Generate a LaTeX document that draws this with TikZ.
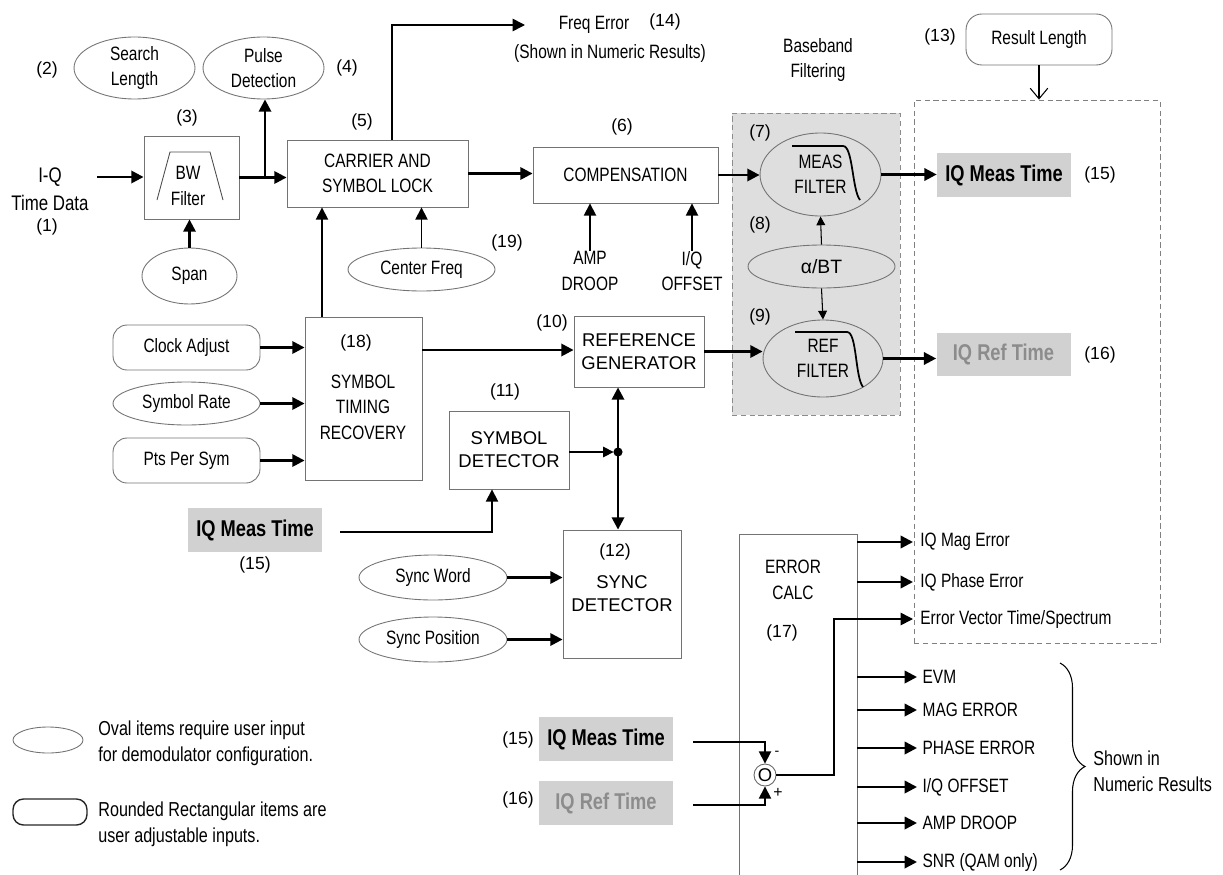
\documentclass[tikz,border=0pt]{standalone}
\usepackage{fontspec}
\setmainfont{Liberation Sans}
\newfontfamily\cnd{Liberation Sans}[FakeStretch=0.8]
\usetikzlibrary{arrows.meta,shapes.geometric,decorations.pathreplacing}

\tikzset{
  blk/.style={draw=black!55,line width=.5pt,rectangle},
  oval/.style={draw=black!55,line width=.5pt,ellipse},
  rbox/.style={draw=black!55,line width=.5pt,rounded corners=8pt},
  cn/.style={font=\cnd\fontsize{11}{14.5}\selectfont,align=center},
  ar/.style={font=\fontsize{10.5}{13}\selectfont,align=center},
  num/.style={font=\fontsize{10}{12}\selectfont},
  iqtag/.style={fill=black!18,font=\cnd\bfseries\fontsize{13}{15}\selectfont,minimum width=2.68cm,minimum height=0.88cm},
  fat/.style={line width=1.4pt,-{Triangle[length=7pt,width=7pt]}},
  med/.style={line width=.9pt,-{Triangle[length=7pt,width=7pt]}},
  slim/.style={line width=.6pt,-{Triangle[length=5pt,width=5pt]}}
}

\begin{document}
\begin{tikzpicture}[x=0.02cm,y=-0.02cm,inner sep=0pt]
\useasboundingbox (0,0) rectangle (1223,875);
\node[draw=black!45,dash pattern=on 3pt off 2pt,line width=.5pt,fill=black!13,minimum width=3.36cm,minimum height=6.04cm] (bbf) at (816,264) {};
\node[draw=black!50,dash pattern=on 3pt off 2pt,line width=.5pt,minimum width=4.92cm,minimum height=10.86cm] (disp) at (1037,371.5) {};
\node[cn] (bbtxt) at (818,60) {Baseband\\Filtering};

\node[cn,font=\cnd\fontsize{12}{16}\selectfont] (iqin) at (50,189) {I-Q\\Time Data};
\node[num] (n1) at (47,227) {(1)};
\node[blk,minimum width=1.90cm,minimum height=1.66cm] (bw) at (191.5,177.5) {};
\node[cn] (bwtxt) at (188,186) {BW\\Filter};
\draw[black!70,line width=.5pt] (157,200)--(170,152)--(210,152)--(223,200);
\node[num] (n3) at (187,118) {(3)};
\node[oval,cn,minimum width=2.42cm,minimum height=1.24cm] (search) at (134.5,68) {Search\\Length};
\node[num] (n2) at (47,70) {(2)};
\node[oval,cn,minimum width=2.42cm,minimum height=1.24cm] (pulse) at (263.5,68) {Pulse\\Detection};
\node[num] (n4) at (347,68) {(4)};
\node[oval,cn,minimum width=1.90cm,minimum height=1.12cm] (span) at (189.5,276) {Span};

\node[blk,cn,minimum width=3.62cm,minimum height=1.34cm] (carrier) at (377.5,173.5) {CARRIER AND\\SYMBOL LOCK};
\node[num] (n5) at (362,122) {(5)};
\node[cn] (freqerr) at (594,25) {Freq Error};
\node[num] (n14) at (665,22) {(14)};
\node[cn] (shown1) at (610,53) {(Shown in Numeric Results)};
\node[oval,cn,minimum width=2.94cm,minimum height=0.86cm] (cfreq) at (421.5,269.5) {Center Freq};
\node[num] (n19) at (507,243) {(19)};

\node[blk,cn,minimum width=3.70cm,minimum height=1.12cm] (comp) at (625.5,175) {COMPENSATION};
\node[num] (n6) at (622,127) {(6)};
\node[cn] (amp) at (590,271) {AMP\\DROOP};
\node[cn] (iqoff) at (692,271) {I/Q\\OFFSET};

\node[oval,cn,minimum width=2.42cm,minimum height=1.66cm] (meas) at (820.5,174.5) {MEAS\\FILTER};
\draw[line width=1pt] (792,146)--(843,146) .. controls (853,146) and (852,190) .. (860,200);
\node[num] (n7) at (760,133) {(7)};
\node[oval,minimum width=2.94cm,minimum height=0.86cm,font=\fontsize{11}{13}\selectfont] (alpha) at (821.5,266.5) {α/BT};
\node[num] (n8) at (760,225) {(8)};
\node[oval,cn,minimum width=2.40cm,minimum height=1.54cm] (ref) at (823,358.5) {REF\\FILTER};
\draw[line width=1pt] (795,332)--(847,332) .. controls (857,332) and (855,377) .. (863,387);
\node[num] (n9) at (760,317) {(9)};

\node[rbox,cn,rounded corners=9pt,minimum width=2.92cm,minimum height=1.02cm] (reslen) at (1039,39.5) {Result Length};
\node[num] (n13) at (940,37) {(13)};
\node[iqtag] (iqm1) at (1004,175) {IQ Meas Time};
\node[num] (n15a) at (1100,175) {(15)};
\node[iqtag,text=black!45] (iqr1) at (1003.5,354.5) {IQ Ref Time};
\node[num] (n16a) at (1100,355) {(16)};

\node[rbox,cn,minimum width=2.94cm,minimum height=0.90cm] (clock) at (186.5,347.5) {Clock Adjust};
\node[oval,cn,minimum width=2.94cm,minimum height=0.86cm] (symrate) at (186.5,403.5) {Symbol Rate};
\node[rbox,cn,minimum width=2.94cm,minimum height=0.90cm] (pts) at (186.5,460.5) {Pts Per Sym};
\node[blk,minimum width=2.34cm,minimum height=3.26cm] (str) at (363.5,398.5) {};
\node[num] (n18) at (356,343) {(18)};
\node[cn] (strtxt) at (363,407) {SYMBOL\\TIMING\\RECOVERY};

\node[blk,ar,minimum width=2.60cm,minimum height=1.42cm] (refgen) at (639,351.5) {REFERENCE\\GENERATOR};
\node[num] (n10) at (552,323) {(10)};
\node[blk,ar,minimum width=2.40cm,minimum height=1.56cm] (symdet) at (509,450) {SYMBOL\\DETECTOR};
\node[num] (n11) at (505,392) {(11)};
\node[iqtag] (iqm2) at (255,530) {IQ Meas Time};
\node[num] (n15b) at (255,565) {(15)};
\node[blk,ar,minimum width=2.36cm,minimum height=2.56cm] (syncdet) at (622,594) {SYNC\\DETECTOR};
\node[num] (n12) at (615,552) {(12)};
\node[oval,cn,minimum width=2.96cm,minimum height=0.90cm] (syncword) at (433,577.5) {Sync Word};
\node[oval,cn,minimum width=2.96cm,minimum height=0.90cm] (syncpos) at (433,639.5) {Sync Position};

\node[minimum width=2.34cm,minimum height=6.80cm] (errcalc) at (798.5,705) {};
\draw[draw=black!55,line width=.5pt] (errcalc.south west)|-(errcalc.north east)--(errcalc.south east);
\node[cn] (errtxt) at (793,580) {ERROR\\CALC};
\node[num] (n17) at (782,633) {(17)};
\node[num] (n15c) at (518,740) {(15)};
\node[iqtag] (iqm3) at (606,739) {IQ Meas Time};
\node[num] (n16b) at (518,800) {(16)};
\node[iqtag,text=black!45] (iqr3) at (606,803) {IQ Ref Time};
\node[circle,draw=black!60,line width=.5pt,minimum size=0.44cm,ar] (sum) at (765,775) {O};
\node[font=\fontsize{8}{9}\selectfont] (minus) at (777,753) {-};
\node[font=\fontsize{9}{10}\selectfont] (plus) at (778,793) {+};

\node[cn,anchor=west,inner xsep=4pt] (omag) at (913,542) {IQ Mag Error};
\node[cn,anchor=west,inner xsep=4pt] (ophase) at (913,582) {IQ Phase Error};
\node[cn,anchor=west,inner xsep=4pt] (oev) at (913,619) {Error Vector Time/Spectrum};
\node[cn,anchor=west,inner xsep=3pt] (oevm) at (917,677) {EVM};
\node[cn,anchor=west,inner xsep=3pt] (omagerr) at (917,710) {MAG ERROR};
\node[cn,anchor=west,inner xsep=3pt] (ophaseerr) at (917,748) {PHASE ERROR};
\node[cn,anchor=west,inner xsep=3pt] (ooff) at (917,787) {I/Q OFFSET};
\node[cn,anchor=west,inner xsep=3pt] (odroop) at (917,823) {AMP DROOP};
\node[cn,anchor=west,inner xsep=3pt] (osnr) at (917,862) {SNR (QAM only)};
\coordinate (brtop) at (1060,663);
\coordinate (brbot) at (1060,870);
\draw[line width=.6pt,decorate,decoration={brace,amplitude=0.5cm,aspect=0.5}] (brtop)--(brbot);
\node[cn,anchor=west,align=left,font=\cnd\fontsize{11.5}{15}\selectfont] (shown2) at (1093,771) {Shown in\\Numeric Results};

\node[oval,minimum width=1.40cm,minimum height=0.52cm] (legov) at (48,740) {};
\node[rbox,draw=black!85,line width=.8pt,rounded corners=6pt,minimum width=1.48cm,minimum height=0.52cm] (legrr) at (50,812) {};
\node[cn,anchor=west,align=left,font=\cnd\fontsize{11.5}{15}\selectfont] (legovtxt) at (98,743) {Oval items require user input\\for demodulator configuration.};
\node[cn,anchor=west,align=left,font=\cnd\fontsize{11.5}{15}\selectfont] (legrrtxt) at (98,824.5) {Rounded Rectangular items are\\user adjustable inputs.};

\coordinate (iqstart) at (97,177);
\draw[fat] (iqstart)--(iqstart -| bw.west);
\draw[fat] (bw.east)--(bw.east -| carrier.west);
\coordinate (pbr) at (265,177.5);
\draw[fat] (pbr)--(pbr |- pulse.south);
\draw[fat] (span.north)--(span.north |- bw.south);
\draw[fat] (carrier.east)--(carrier.east -| comp.west);
\draw[fat] (comp.east)--(comp.east -| meas.west);
\draw[fat] (meas.east)--(meas.east -| iqm1.west);
\coordinate (feup) at (392,25);
\coordinate (fetip) at (525,25);
\draw[med] (feup |- carrier.north)--(feup)--(fetip);
\draw[med] (cfreq.north)--(cfreq.north |- carrier.south);
\draw[med] (amp.north)--(amp.north |- comp.south);
\draw[med] (iqoff.north)--(iqoff.north |- comp.south);
\draw[slim] (alpha.north)--(meas.south);
\draw[slim] (alpha.south)--(ref.north);
\draw[fat] (refgen.east)--(refgen.east -| ref.west);
\draw[fat] (ref.east)--(ref.east -| iqr1.west);
\draw[line width=.6pt,-{Straight Barb[length=6pt,width=10pt]}] (reslen.south)--(reslen.south |- disp.north);

\draw[fat] (clock.east)--(clock.east -| str.west);
\draw[fat] (symrate.east)--(symrate.east -| str.west);
\draw[fat] (pts.east)--(pts.east -| str.west);
\coordinate (strup) at (322,317);
\draw[med] (strup)--(strup |- carrier.south);
\coordinate (strout) at (422,350);
\draw[fat] (strout)--(strout -| refgen.west);
\coordinate (jn) at (618,452);
\draw[line width=.7pt,-{Triangle[length=6pt,width=6pt]},shorten >=2.5pt] (symdet.east |- jn)--(jn);
\fill (jn) circle[radius=2.6pt];
\draw[line width=1.4pt,{Triangle[length=7pt,width=7pt]}-{Triangle[length=7pt,width=7pt]}] (jn |- refgen.south)--(jn |- syncdet.north);
\coordinate (lm) at (340,532);
\coordinate (lmk) at (492,532);
\draw[med] (lm)--(lmk)--(lmk |- symdet.south);
\draw[fat] (syncword.east)--(syncword.east -| syncdet.west);
\draw[fat] (syncpos.east)--(syncpos.east -| syncdet.west);

\coordinate (m2) at (693,742);
\coordinate (r2) at (693,805);
\draw[med] (m2)-|(sum.north);
\draw[med] (r2)-|(sum.south);
\coordinate (evk) at (834,775);
\draw[med] (sum.east)--(evk)|-(oev.west);
\draw[fat] (errcalc.east |- omag.west)--(omag.west);
\draw[fat] (errcalc.east |- ophase.west)--(ophase.west);
\draw[fat] (errcalc.east |- oevm.west)--(oevm.west);
\draw[fat] (errcalc.east |- omagerr.west)--(omagerr.west);
\draw[fat] (errcalc.east |- ophaseerr.west)--(ophaseerr.west);
\draw[fat] (errcalc.east |- ooff.west)--(ooff.west);
\draw[fat] (errcalc.east |- odroop.west)--(odroop.west);
\draw[fat] (errcalc.east |- osnr.west)--(osnr.west);
\end{tikzpicture}
\end{document}
